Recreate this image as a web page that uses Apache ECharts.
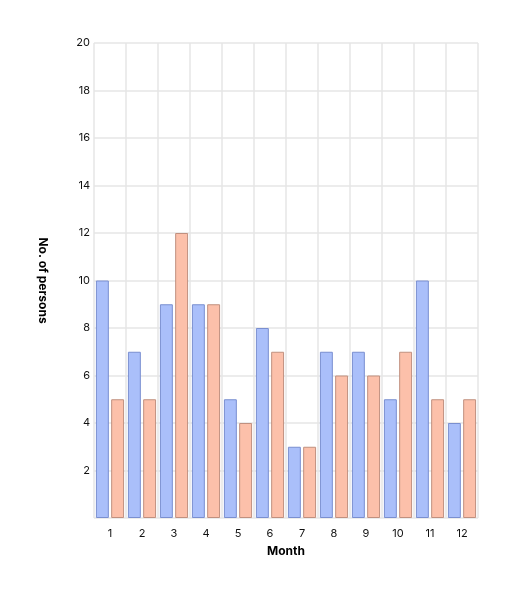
<!DOCTYPE html>
<html><head><meta charset="utf-8">
<script src="https://cdn.jsdelivr.net/npm/echarts@6/dist/echarts.min.js"></script>
<style>html,body{margin:0;padding:0;background:#fff}#c{width:518px;height:594px}</style>
</head><body><div id="c"></div>
<script>
const months = ['1','2','3','4','5','6','7','8','9','10','11','12'];
const seriesA = [10,7,9,9,5,8,3,7,7,5,10,4];
const seriesB = [5,5,12,9,4,7,3,6,6,7,5,5];
const yTicks = [2,4,6,8,10,12,14,16,18,20];
const chart = echarts.init(document.getElementById('c'));
chart.setOption({
  animation:false,
  textStyle:{fontFamily:'Inter, Roboto, sans-serif'},
  grid:{left:94,right:40,top:43,bottom:76,containLabel:false},
  xAxis:{type:'category',data:months,name:'Month',nameLocation:'middle',nameGap:27,
    nameTextStyle:{fontWeight:'bold',fontSize:12,color:'#000'},
    axisLine:{show:false},axisTick:{show:false},
    axisLabel:{color:'#111',fontSize:11,margin:10},
    splitLine:{show:true,lineStyle:{color:'#e6e6e6',width:1.5}}},
  yAxis:{type:'value',min:0,max:20,interval:2,name:'No. of persons',nameLocation:'middle',nameRotate:-90,nameGap:45,
    nameTextStyle:{fontWeight:'bold',fontSize:12,color:'#000'},
    axisLine:{show:false},axisTick:{show:false},
    axisLabel:{color:'#111',fontSize:11,margin:4,formatter:v=>yTicks.includes(v)?String(v):''},
    splitLine:{show:true,lineStyle:{color:'#e6e6e6',width:1.5}}},
  series:[
    {type:'bar',data:seriesA,barGap:'18%',barCategoryGap:'12%',
      itemStyle:{color:'#aabffa',borderColor:'#7a8fd0',borderWidth:1}},
    {type:'bar',data:seriesB,
      itemStyle:{color:'#fcc0aa',borderColor:'#c0907f',borderWidth:1}}
  ]
});
</script></body></html>
